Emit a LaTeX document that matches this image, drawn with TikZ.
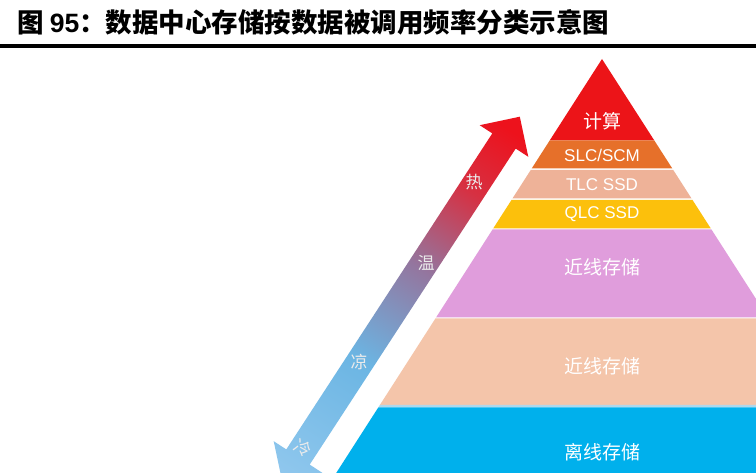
\documentclass[tikz,border=0pt]{standalone}
\usepackage{fontspec}
\setmainfont{Liberation Sans}
\newfontfamily\cjk{Noto Sans CJK SC}
\newfontfamily\latinsans{Liberation Sans}
\definecolor{cRed}{RGB}{236,20,24}
\definecolor{cOrange}{RGB}{230,112,42}
\definecolor{cSalmon}{RGB}{238,178,152}
\definecolor{cYellow}{RGB}{252,192,12}
\definecolor{cMagenta}{RGB}{224,157,220}
\definecolor{cPeach}{RGB}{244,197,170}
\definecolor{cSep}{RGB}{175,215,235}
\definecolor{cBlue}{RGB}{0,176,236}
\pgfdeclarehorizontalshading{heatshade}{100bp}{rgb(0bp)=(0.56,0.78,0.93); rgb(27bp)=(0.56,0.78,0.93); rgb(42bp)=(0.42,0.71,0.89); rgb(54bp)=(0.58,0.46,0.62); rgb(64bp)=(0.84,0.19,0.26); rgb(72bp)=(0.93,0.07,0.11); rgb(100bp)=(0.93,0.07,0.11)}
\newcommand{\pyrlayer}[3]{\fill[#3] ({602-0.642*(#1-59)},#1) -- ({602+0.642*(#1-59)},#1) -- ({602+0.642*(#2-59)},#2) -- ({602-0.642*(#2-59)},#2) -- cycle;}
\tikzset{
  layertext/.style={text=white, inner sep=0pt, font=\cjk\fontsize{19}{19}\selectfont},
  latintext/.style={text=white, inner sep=0pt, font=\latinsans\fontsize{17}{17}\selectfont},
  heattext/.style={text=white!92!black, inner sep=0pt, font=\cjk\fontsize{17}{17}\selectfont},
}
\begin{document}
\begin{tikzpicture}[x=1pt,y=-1pt]
\useasboundingbox (0,0) rectangle (756,473);
\clip (0,0) rectangle (756,473);
\fill[white] (0,0) rectangle (756,473);
% title
\node[anchor=west, inner sep=0pt] (title) at (17,22.5)
  {\cjk\bfseries\fontsize{26.5}{27}\selectfont 图 {\latinsans\bfseries 95}：数据中心存储按数据被调用频率分类示意图};
\draw[line width=3.6pt] (0,46) -- (756,46);
% pyramid
\pyrlayer{59}{140.5}{cRed}
\pyrlayer{140.5}{168.5}{cOrange}
\pyrlayer{170}{198.5}{cSalmon}
\pyrlayer{200}{228.5}{cYellow}
\pyrlayer{229.5}{317.5}{cMagenta}
\pyrlayer{318.5}{405}{cPeach}
\pyrlayer{405}{407.5}{cSep}
\pyrlayer{407.5}{480}{cBlue}
\node[layertext] (l1) at (602,121) {计算};
\node[latintext] (l2) at (602,155) {SLC/SCM};
\node[latintext] (l3) at (602,184.5) {TLC SSD};
\node[latintext] (l4) at (602,214) {QLC SSD};
\node[layertext] (l5) at (602,267) {近线存储};
\node[layertext] (l6) at (602,366) {近线存储};
\node[layertext] (l7) at (602,452) {离线存储};
% double arrow (half-width 14 shaft, 29 head)
\coordinate (tipT) at (519.8,116.7);
\coordinate (barbTR) at (528.3,156.8);
\coordinate (shTR) at (515.7,148.6);
\coordinate (shBR) at (309.7,464.6);
\coordinate (barbBR) at (322.3,472.8);
\coordinate (tipB) at (282.2,481.3);
\coordinate (barbBL) at (273.7,441.2);
\coordinate (shBL) at (286.3,449.4);
\coordinate (shTL) at (492.3,133.4);
\coordinate (barbTL) at (479.7,125.2);
\begin{scope}
  \clip (tipT) -- (barbTR) -- (shTR) -- (shBR) -- (barbBR) -- (tipB) -- (barbBL) -- (shBL) -- (shTL) -- (barbTL) -- cycle;
  \shade[shading=heatshade, shading angle=57] (171,69) rectangle (631,529);
\end{scope}
\node[heattext] (hot) at (474,182) {热};
\node[heattext] (warm) at (426,263) {温};
\node[heattext] (cool) at (359,362) {凉};
\node[heattext, rotate=-30] (cold) at (303,448) {冷};
\end{tikzpicture}
\end{document}
